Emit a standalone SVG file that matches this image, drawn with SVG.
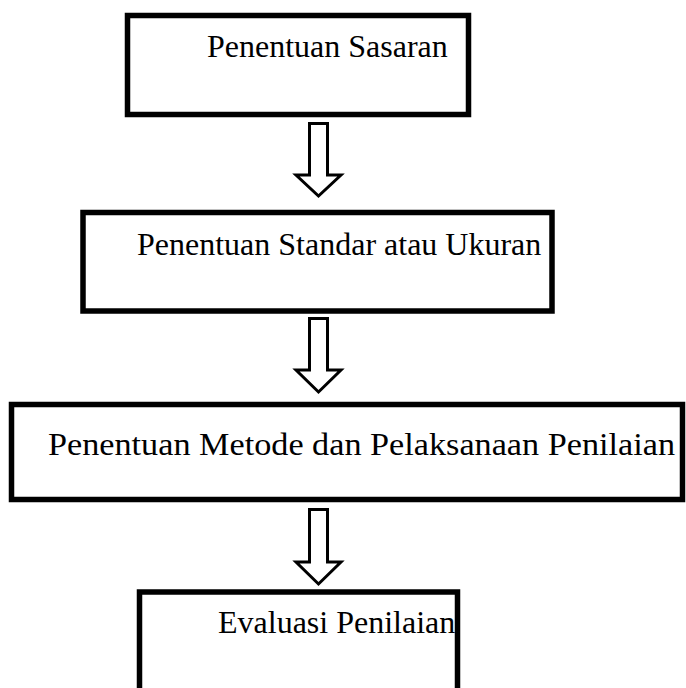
<svg xmlns="http://www.w3.org/2000/svg" width="686" height="688" viewBox="0 0 686 688">
<style>
.box{fill:#fff;stroke:#000;stroke-width:5.5}
.lbl{font-family:"Liberation Serif","Times New Roman",serif;font-size:32px;fill:#000}
.arr{fill:#fff;stroke:#000;stroke-width:3;stroke-linejoin:miter;stroke-miterlimit:10}
</style>
<rect width="686" height="688" fill="#fff"/>
<g id="node1">
<rect class="box" x="127.5" y="15.5" width="341" height="99"/>
<text class="lbl" x="207" y="57">Penentuan Sasaran</text>
</g>
<g id="node2">
<rect class="box" x="83" y="212.5" width="469" height="98.5"/>
<text class="lbl" x="137" y="255">Penentuan Standar atau Ukuran</text>
</g>
<g id="node3">
<rect class="box" x="11.5" y="404.5" width="671" height="95"/>
<text class="lbl" x="48" y="455" textLength="627" lengthAdjust="spacingAndGlyphs">Penentuan Metode dan Pelaksanaan Penilaian</text>
</g>
<g id="node4">
<rect class="box" x="139.5" y="592" width="318" height="110"/>
<text class="lbl" x="218" y="633">Evaluasi Penilaian</text>
</g>
<g id="connectors">
<path class="arr" d="M309.5,123.5 H327.5 V175 H341 L318.5,196 L296,175 H309.5 Z"/>
<path class="arr" d="M309.5,318.5 H327.5 V370 H341 L318.5,392 L296,370 H309.5 Z"/>
<path class="arr" d="M309.5,509.5 H327.5 V562 H341 L318.5,584 L296,562 H309.5 Z"/>
</g>
</svg>
